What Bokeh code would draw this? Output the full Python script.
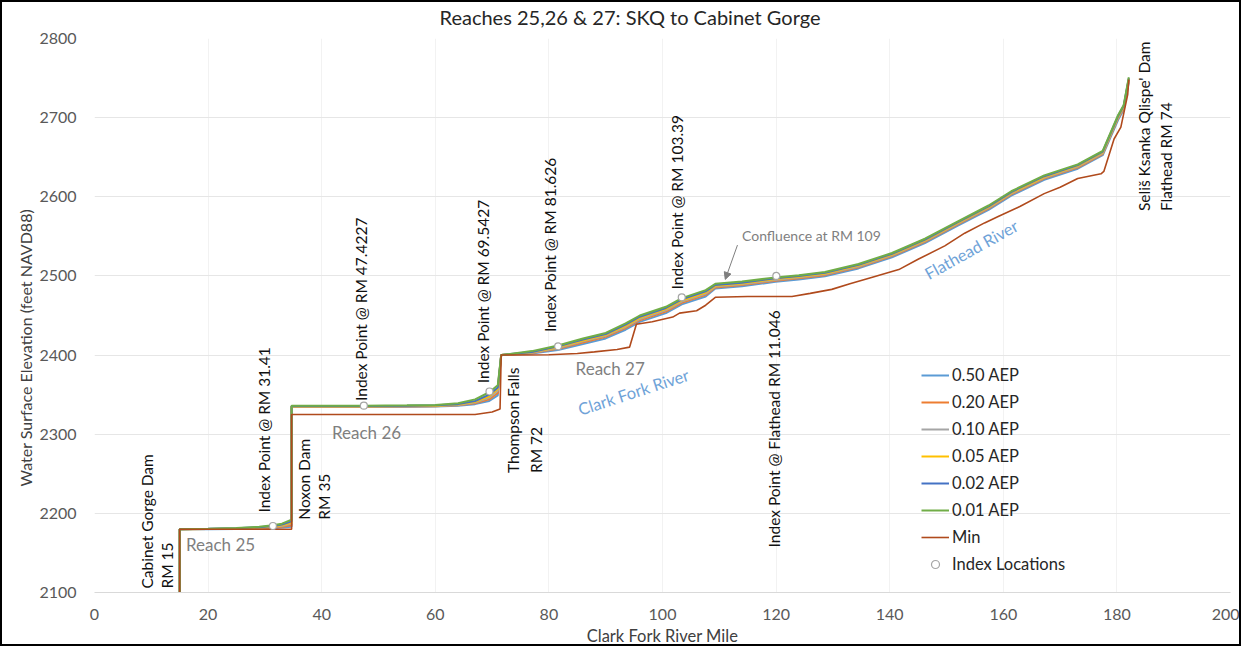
import math
from bokeh.plotting import figure
from bokeh.models import (Arrow, NormalHead, Legend, LegendItem, FixedTicker, Range1d, Title)
from bokeh.core.properties import value
from bokeh.embed import file_html
from bokeh.resources import INLINE

# ---------------- data ----------------
series_names = ["0.50 AEP", "0.20 AEP", "0.10 AEP", "0.05 AEP", "0.02 AEP", "0.01 AEP", "Min"]

river_mile = [15, 15, 20, 25, 29, 31.4, 33, 34.7, 34.7, 40, 47.4, 55, 60, 64, 67, 69.5, 71, 71.6,
              77, 81.6, 86, 90, 93.5, 96, 100.6, 103.4, 107.6, 109.3, 114, 119.9, 124, 128.6,
              134.5, 140.4, 146.2, 152, 157.4, 161.4, 167.2, 173.1, 177.5, 180.2, 181.2, 182.1]

aep_050 = [2100, 2180, 2180, 2180.3, 2180.8, 2181.3, 2182, 2183, 2334.5, 2334.5, 2334.5, 2334.7, 2335,
           2336, 2338, 2342, 2349, 2400, 2402, 2406.5, 2414, 2421, 2432, 2442, 2453, 2464, 2474,
           2484, 2487, 2492.5, 2495.5, 2499.5, 2509.5, 2523.5, 2541.5, 2563.5, 2583.5, 2601.5,
           2621.5, 2635.5, 2652.5, 2697, 2710, 2745]
aep_020 = [2100, 2180, 2180.1, 2180.5, 2181.2, 2182, 2183, 2185, 2334.8, 2334.8, 2334.8, 2335, 2335.3,
           2336.5, 2339, 2344, 2352, 2400, 2402.5, 2408, 2416, 2423, 2434, 2444, 2455, 2466, 2476,
           2485.5, 2488.5, 2494, 2497, 2501, 2511, 2525, 2543, 2565, 2585, 2603, 2623, 2637, 2654,
           2699, 2712, 2747]
aep_010 = [2100, 2180, 2180.2, 2180.8, 2181.6, 2182.8, 2184, 2187, 2335, 2335, 2335, 2335.3, 2335.6,
           2337, 2340, 2346, 2355, 2400, 2403, 2409, 2417.5, 2424.5, 2435.5, 2445.5, 2456.5, 2467.5,
           2477.5, 2486.5, 2489.5, 2495, 2498, 2502, 2512, 2526, 2544, 2566, 2586, 2604, 2624, 2638,
           2655, 2700, 2713, 2748]
aep_005 = [2100, 2180, 2180.3, 2181, 2182, 2183.5, 2185, 2188.5, 2335.2, 2335.2, 2335.2, 2335.6, 2336,
           2337.5, 2341, 2348, 2357, 2400, 2403.5, 2410, 2418.5, 2425.5, 2437, 2447, 2458, 2469,
           2479, 2487.5, 2490.5, 2496, 2499, 2503, 2513, 2527, 2545, 2567, 2587, 2605, 2625, 2639,
           2656, 2701, 2714, 2749]
aep_002 = [2100, 2180, 2180.4, 2181.2, 2182.5, 2184, 2186, 2190, 2335.5, 2335.5, 2335.5, 2336, 2336.5,
           2338, 2342, 2350, 2359, 2400, 2404, 2411, 2419.5, 2426.5, 2438.5, 2448.5, 2459.5, 2470.5,
           2480.5, 2488.5, 2491.5, 2497, 2500, 2504, 2514, 2528, 2546, 2568, 2588, 2606, 2626, 2640,
           2657, 2702, 2715, 2750]
aep_001 = [2100, 2180, 2180.5, 2181.5, 2183, 2185, 2187, 2192, 2336, 2336, 2336, 2336.5, 2337, 2339,
           2344, 2353, 2362, 2400, 2405, 2412, 2421, 2428, 2440, 2450, 2461, 2472, 2482, 2490, 2493,
           2498, 2501, 2505, 2515, 2529, 2547, 2569, 2589, 2607, 2627, 2641, 2658, 2703, 2716, 2751]

min_mile = [15, 15, 34.7, 34.7, 67, 70, 71.4, 71.6, 75, 80, 85, 88, 92, 94.2, 95.4, 98.2, 101.8, 103,
            106, 107.6, 109.3, 115, 122.8, 126, 129.8, 133, 136.8, 141.6, 145, 149.7, 153.2, 156.7,
            159.1, 163, 167.2, 170, 173.1, 177.2, 177.7, 179.5, 180.7, 181.9, 182.1]
min_elev = [2100, 2180, 2180, 2325, 2325, 2328, 2332, 2400, 2400, 2400.5, 2402, 2404, 2407, 2410, 2439,
            2442, 2448, 2453, 2456, 2463, 2473, 2474, 2474, 2478, 2483, 2490, 2498, 2508, 2521, 2538,
            2554, 2567, 2575, 2588, 2604, 2612, 2623, 2629, 2632, 2673, 2688, 2729, 2748]

index_mile = [31.41, 47.4227, 69.5427, 81.626, 103.39, 120.046]
index_elev = [2184, 2336, 2354, 2411, 2473, 2500]

x_ticks = [0, 20, 40, 60, 80, 100, 120, 140, 160, 180, 200]
y_ticks = [2100, 2200, 2300, 2400, 2500, 2600, 2700, 2800]

# ---------------- styles ----------------
FONT = "Lato"
colors = ["#5B9BD5", "#ED7D31", "#A5A5A5", "#FFC000", "#4472C4", "#70AD47", "#B04A1C"]
widths = [2, 2, 2, 2, 2, 2, 1.6]

p = figure(width=1241, height=646, x_range=Range1d(0, 200), y_range=Range1d(2100, 2800),
           output_backend="svg", toolbar_location=None,
           min_border_left=92, min_border_right=13, min_border_top=36, min_border_bottom=52)
p.styles = {"border": "2px solid black", "box-sizing": "border-box"}
p.outline_line_color = None
p.background_fill_color = "white"
p.border_fill_color = "white"

# chart title (outermost) with a small spacer title between it and the frame
p.title.text = "Reaches 25,26 & 27: SKQ to Cabinet Gorge"
p.title.align = "left"
p.title.offset = 345
p.title.standoff = 0
p.title.text_font = FONT
p.title.text_font_size = "20px"
p.title.text_font_style = "normal"
p.title.text_color = "#262626"
p.add_layout(Title(text=" ", text_font_size="2px", standoff=6), "above")
p.add_layout(Title(text="Water Surface Elevation (feet NAVD88)", align="left", offset=106,
                   standoff=4, text_font=FONT, text_font_size="16px",
                   text_font_style="normal", text_color="#404040"), "left")

p.xaxis.ticker = FixedTicker(ticks=x_ticks)
p.yaxis.ticker = FixedTicker(ticks=y_ticks)
for ax in (p.xaxis[0], p.yaxis[0]):
    ax.major_tick_line_color = None
    ax.minor_tick_line_color = None
    ax.major_label_text_font = FONT
    ax.major_label_text_font_size = "16px"
    ax.major_label_text_color = "#595959"
    ax.axis_label_text_font = FONT
    ax.axis_label_text_font_size = "16.5px"
    ax.axis_label_text_font_style = "normal"
    ax.axis_label_text_color = "#404040"
p.yaxis.axis_line_color = None
p.xaxis.axis_line_color = "#D9D9D9"
p.yaxis.major_label_standoff = 12
p.xaxis.major_label_standoff = 10
p.xaxis.axis_label = "Clark Fork River Mile"
p.xaxis.axis_label_standoff = 3

p.xgrid.grid_line_color = "#F2F2F2"
p.ygrid.grid_line_color = "#E6E6E6"

aep_series = [aep_050, aep_020, aep_010, aep_005, aep_002, aep_001]
renderers = []
for name, ys, c, w in zip(series_names[:6], aep_series, colors[:6], widths[:6]):
    r = p.line(river_mile, ys, line_color=c, line_width=w)
    renderers.append(r)
r_min = p.line(min_mile, min_elev, line_color=colors[6], line_width=widths[6])
renderers.append(r_min)
r_idx = p.scatter(index_mile, index_elev, marker="circle", size=7, fill_color="white",
                  line_color="#A5A5A5", line_width=1.2)

items = [LegendItem(label=n, renderers=[r]) for n, r in zip(series_names, renderers)]
items.append(LegendItem(label="Index Locations", renderers=[r_idx]))
legend = Legend(items=items, location=(827, 18), background_fill_alpha=0,
                border_line_color=None, padding=0, margin=0, spacing=7,
                glyph_width=28, glyph_height=20, label_height=20, label_standoff=3,
                label_text_font=FONT, label_text_font_size="16.5px", label_text_color="#262626")
p.add_layout(legend)

# vertical black annotations
vert_text = ["Cabinet Gorge Dam", "RM 15", "Index Point @ RM 31.41", "Noxon Dam", "RM 35",
             "Index Point @ RM 47.4227", "Index Point @ RM 69.5427", "Thompson Falls", "RM 72",
             "Index Point @ RM 81.626", "Index Point @ RM 103.39",
             "Index Point @ Flathead RM 11.046", "Seliš Ksanka Qlispe' Dam", "Flathead RM 74"]
vert_x = [9.3, 12.8, 29.8, 36.8, 40.4, 47.0, 68.4, 73.7, 77.7, 80.2, 102.6, 119.6, 184.7, 188.6]
vert_y = [2105, 2105, 2201, 2192, 2192, 2342, 2364.5, 2251, 2251, 2429, 2483, 2157, 2582, 2582]
p.text(x=vert_x, y=vert_y, text=vert_text, angle=math.pi / 2, text_align="left",
       text_baseline="middle", text_font=value(FONT), text_font_size="15.5px", text_color="#111111")

# gray reach labels
reach_text = ["Reach 25", "Reach 26", "Reach 27"]
reach_x = [16.1, 41.8, 84.7]
reach_y = [2161, 2302, 2383]
p.text(x=reach_x, y=reach_y, text=reach_text, text_align="left", text_baseline="middle",
       text_font=value(FONT), text_font_size="17px", text_color="#7F7F7F")

p.text(x=[114.0], y=[2550.5], text=["Confluence at RM 109"], text_align="left",
       text_baseline="middle", text_font=value(FONT), text_font_size="14px", text_color="#7F7F7F")
p.add_layout(Arrow(end=NormalHead(size=7, fill_color="#7F7F7F", line_color="#7F7F7F"),
                   x_start=113.2, y_start=2539, x_end=111.05, y_end=2495.6,
                   line_color="#7F7F7F", line_width=1))

p.text(x=[94.9], y=[2353], text=["Clark Fork River"], angle=0.314, text_align="center",
       text_baseline="middle", text_font=value(FONT), text_font_size="16.5px", text_color="#6FA3D8")
p.text(x=[154.4], y=[2533], text=["Flathead River"], angle=0.506, text_align="center",
       text_baseline="middle", text_font=value(FONT), text_font_size="16.5px", text_color="#6FA3D8")

open("out.html", "w").write(file_html(p, INLINE))
